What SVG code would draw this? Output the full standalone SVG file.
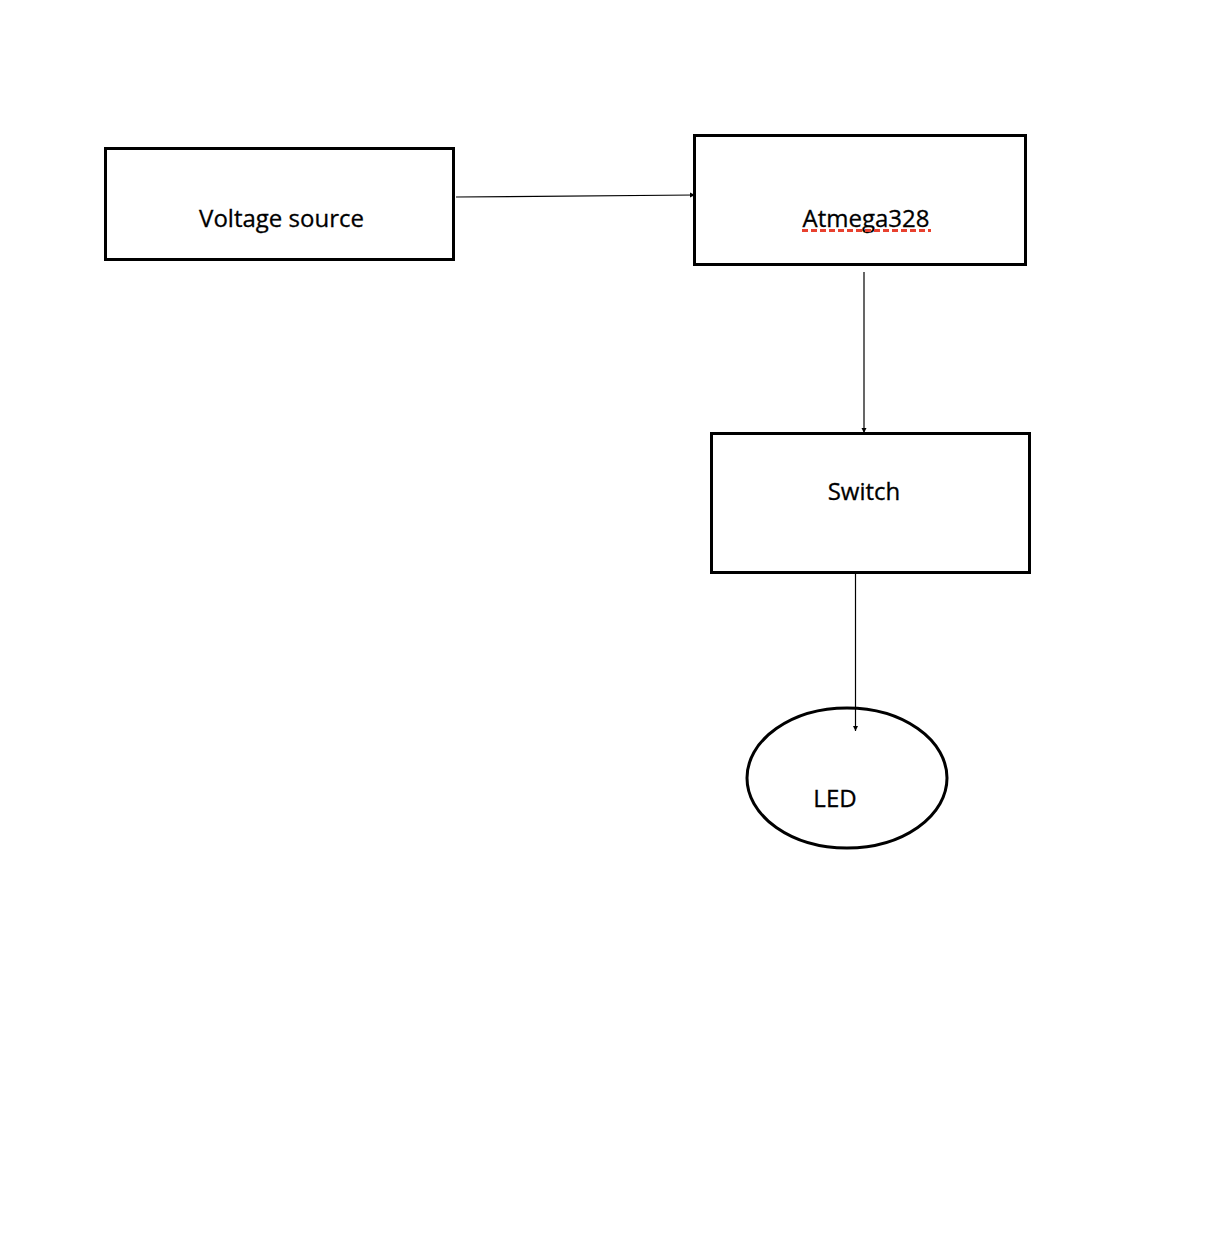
<svg xmlns="http://www.w3.org/2000/svg" width="1226" height="1242" viewBox="0 0 1226 1242">
<style>
.box{fill:#fff;stroke:#000;stroke-width:3}
.lbl{font-family:"Open Sans","Liberation Sans",sans-serif;font-size:24px;fill:#000;stroke:#000;stroke-width:0.3}
.con{stroke:#000;stroke-width:1.2;fill:none;marker-end:url(#ah)}
</style>
<defs>
<marker id="ah" markerWidth="6" markerHeight="6" refX="5" refY="3" orient="auto" markerUnits="userSpaceOnUse">
<path d="M0,0.5 L5,3 L0,5.5 Z" fill="#000"/>
</marker>
</defs>
<rect width="1226" height="1242" fill="#fff"/>
<g id="voltage-source">
<rect class="box" x="105.5" y="148.5" width="348" height="111"/>
<text class="lbl" x="281.5" y="227" text-anchor="middle">Voltage source</text>
</g>
<g id="atmega328">
<rect class="box" x="694.5" y="135.5" width="331" height="129"/>
<text class="lbl" x="866" y="227" text-anchor="middle">Atmega328</text>
<line x1="802" y1="230.5" x2="931" y2="230.5" stroke="#e8412f" stroke-width="3" stroke-dasharray="6,3"/>
</g>
<g id="switch">
<rect class="box" x="711.5" y="433.5" width="318" height="139"/>
<text class="lbl" x="864" y="500" text-anchor="middle">Switch</text>
</g>
<g id="led">
<ellipse class="box" cx="847" cy="778" rx="100" ry="70"/>
<text class="lbl" x="835" y="807" text-anchor="middle">LED</text>
</g>
<g id="connectors">
<line class="con" x1="456" y1="197" x2="695" y2="195"/>
<line class="con" x1="864" y1="272" x2="864" y2="433"/>
<line class="con" x1="855.5" y1="573" x2="855.5" y2="731"/>
</g>
</svg>
